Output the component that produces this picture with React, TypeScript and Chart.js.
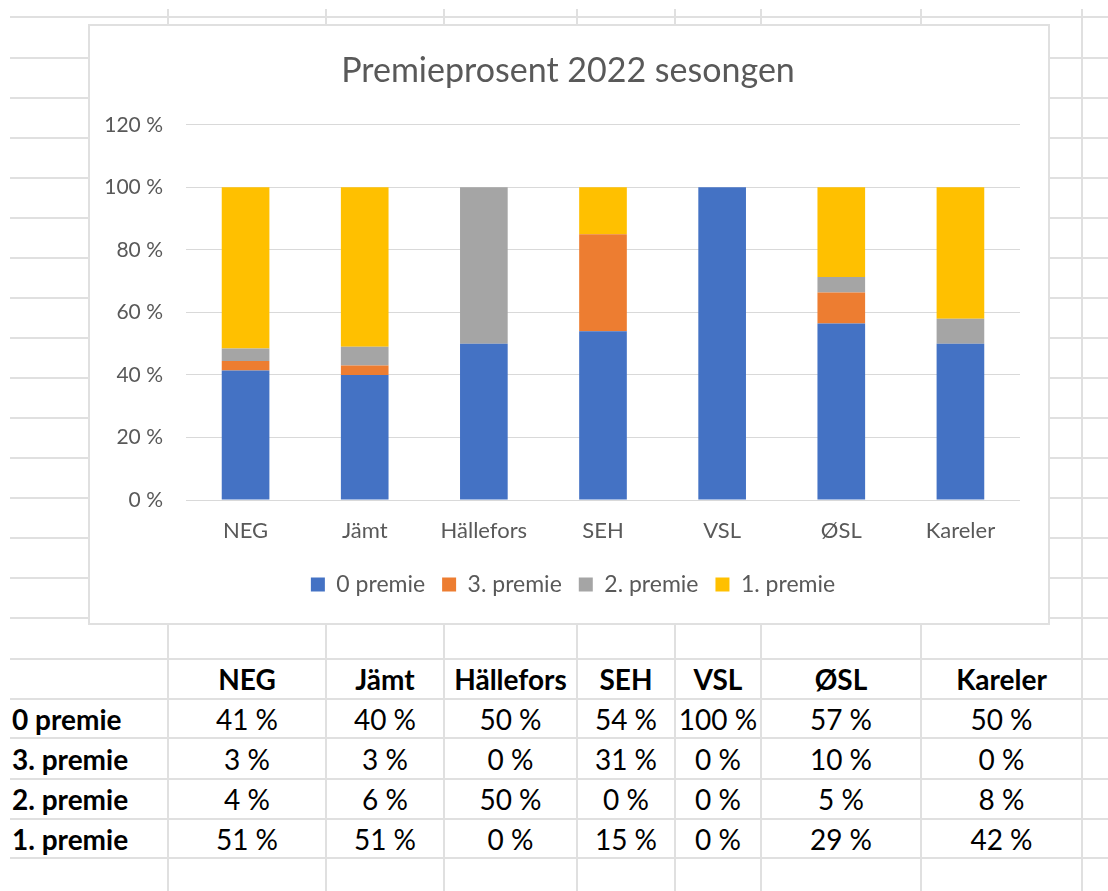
import React, { useEffect, useRef } from "react";
import { Chart, registerables } from "chart.js";

Chart.register(...registerables);

// ---------- data ----------
const chartTitle = "Premieprosent 2022 sesongen";
const categories = ["NEG", "Jämt", "Hällefors", "SEH", "VSL", "ØSL", "Kareler"];
const seriesNames = ["0 premie", "3. premie", "2. premie", "1. premie"];
const premie0 = [41, 40, 50, 54, 100, 57, 50];
const premie3 = [3, 3, 0, 31, 0, 10, 0];
const premie2 = [4, 6, 50, 0, 0, 5, 8];
const premie1 = [51, 51, 0, 15, 0, 29, 42];
const yMin = 0;
const yMax = 120;
const yStep = 20;

const seriesValues = [premie0, premie3, premie2, premie1];
const seriesColors = ["#4472C4", "#ED7D31", "#A5A5A5", "#FFC000"];

// ---------- sheet layout ----------
const FONT = "Lato, 'Open Sans', sans-serif";
const rowLines = [17, 58, 98, 138, 178, 218, 258, 298, 338, 378, 418, 458, 498, 538, 578, 618, 659, 699, 738, 779, 819, 858];
const colLines = [168, 326, 444, 577, 675, 761, 921, 1082];
const tableCols = [10, 168, 326, 444, 577, 675, 761, 921, 1082];
const tableRows = [659, 699, 738, 779, 819, 858];
const LINE = "#e0e0e0";

// nudges the title and legend boxes horizontally (Excel centres them slightly right of the canvas middle)
const shiftBoxes = {
  id: "shiftBoxes",
  afterLayout(chart: any) {
    const lg = chart.legend;
    if (lg) {
      lg.left += 10;
      lg.right += 10;
    }
    const tb = chart.titleBlock;
    if (tb) {
      tb.left += 5;
      tb.right += 5;
    }
  },
};

function ChartBox() {
  const ref = useRef<HTMLCanvasElement | null>(null);
  useEffect(() => {
    if (!ref.current) return;
    const totals = categories.map((_, i) =>
      seriesValues.reduce((s, arr) => s + arr[i], 0)
    );
    const datasets = seriesNames.map((name, k) => ({
      label: name,
      data: seriesValues[k].map((v, i) => (totals[i] ? (v / totals[i]) * 100 : 0)),
      backgroundColor: seriesColors[k],
      borderWidth: 0,
      barPercentage: 0.4,
      categoryPercentage: 1.0,
    }));
    const tickColor = "#595959";
    const chart = new Chart(ref.current, {
      type: "bar",
      data: { labels: categories, datasets },
      plugins: [shiftBoxes],
      options: {
        animation: false,
        responsive: false,
        devicePixelRatio: 1,
        layout: { padding: { top: 0, left: 16, right: 28, bottom: 17 } },
        plugins: {
          title: {
            display: true,
            text: chartTitle,
            color: tickColor,
            font: { family: FONT, size: 34, weight: "normal" },
            padding: { top: 25, bottom: 33 },
          },
          legend: {
            position: "bottom",
            labels: {
              color: tickColor,
              font: { family: FONT, size: 23 },
              boxWidth: 14,
              boxHeight: 14,
              padding: 17,
            },
          },
          tooltip: { enabled: false },
        },
        scales: {
          x: {
            stacked: true,
            grid: { display: false, drawTicks: false },
            border: { display: false },
            ticks: {
              color: tickColor,
              font: { family: FONT, size: 22 },
              padding: 18,
              maxRotation: 0,
              autoSkip: false,
            },
            afterFit: (s: any) => {
              s.height = 56;
            },
          },
          y: {
            stacked: true,
            min: yMin,
            max: yMax,
            grid: { color: "#d9d9d9", lineWidth: 1, drawTicks: false },
            border: { display: false },
            ticks: {
              stepSize: yStep,
              color: tickColor,
              font: { family: FONT, size: 21 },
              padding: 23,
              callback: (v: any) => `${v} %`,
            },
            afterFit: (s: any) => {
              s.width = 80;
            },
          },
        },
      },
    });
    return () => chart.destroy();
  }, []);
  return <canvas ref={ref} width={958} height={597} style={{ display: "block" }} />;
}

export default function App() {
  const rowLabels = seriesNames;
  return (
    <div
      style={{
        position: "absolute",
        left: 0,
        top: 0,
        width: 1108,
        height: 891,
        background: "#fff",
        overflow: "hidden",
        fontFamily: FONT,
      }}
    >
      {rowLines.map((y, i) => (
        <div key={"r" + i} style={{ position: "absolute", left: 10, top: y - 1, width: 1098, height: 2, background: LINE }} />
      ))}
      {colLines.map((x, i) => (
        <div key={"c" + i} style={{ position: "absolute", left: x - 1, top: 9, width: 2, height: 882, background: LINE }} />
      ))}

      {/* table header */}
      {categories.map((c, i) => (
        <div
          key={"h" + i}
          style={{
            position: "absolute",
            left: tableCols[i + 1],
            top: tableRows[0],
            width: tableCols[i + 2] - tableCols[i + 1],
            height: tableRows[1] - tableRows[0],
            display: "flex",
            alignItems: "center",
            justifyContent: "center",
            fontWeight: 700,
            fontSize: 28,
            color: "#000",
          }}
        >
          {c}
        </div>
      ))}
      {rowLabels.map((name, r) => (
        <React.Fragment key={"row" + r}>
          <div
            style={{
              position: "absolute",
              left: 12,
              top: tableRows[r + 1],
              height: tableRows[r + 2] - tableRows[r + 1],
              display: "flex",
              alignItems: "center",
              fontWeight: 700,
              fontSize: 28,
              color: "#000",
              whiteSpace: "nowrap",
            }}
          >
            {name}
          </div>
          {seriesValues[r].map((v, i) => (
            <div
              key={"v" + r + "_" + i}
              style={{
                position: "absolute",
                left: tableCols[i + 1],
                top: tableRows[r + 1],
                width: tableCols[i + 2] - tableCols[i + 1],
                height: tableRows[r + 2] - tableRows[r + 1],
                display: "flex",
                alignItems: "center",
                justifyContent: "center",
                fontSize: 28,
                color: "#000",
              }}
            >
              {v} %
            </div>
          ))}
        </React.Fragment>
      ))}

      {/* chart object */}
      <div
        style={{
          position: "absolute",
          left: 88,
          top: 24,
          width: 962,
          height: 601,
          boxSizing: "border-box",
          border: "2px solid " + LINE,
          background: "#fff",
        }}
      >
        <ChartBox />
      </div>
    </div>
  );
}
